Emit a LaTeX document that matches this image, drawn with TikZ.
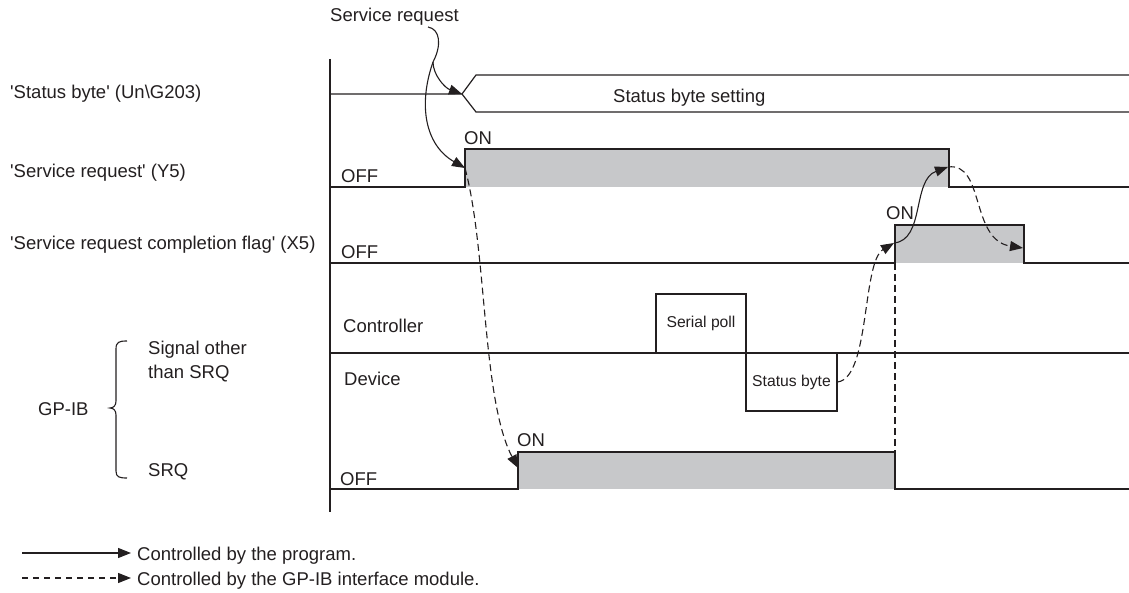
\documentclass[tikz,border=0pt]{standalone}
\usepackage{fontspec}
\setmainfont{Liberation Sans}
\usetikzlibrary{arrows.meta}
\definecolor{ink}{RGB}{35,31,32}
\definecolor{fillgray}{RGB}{199,200,202}
\newcommand\mainfs{\fontsize{18.5}{22}\selectfont}
\newcommand\boxfs{\fontsize{15.7}{19}\selectfont}
\newcommand\q{\textquotesingle}
\tikzset{
  lbl/.style={anchor=base west, inner sep=0pt, font=\mainfs, text=ink},
  sig/.style={draw=ink, line width=1.2pt},
  gate/.style={fill=fillgray},
  boxnode/.style={draw=ink, line width=1.2pt, fill=white, inner sep=0pt, font=\boxfs, text=ink},
  prog/.style={draw=ink, line width=1.1pt, -{Triangle[length=13pt,width=10pt]}},
  progline/.style={draw=ink, line width=1.1pt},
  gpib/.style={prog, dash pattern=on 7pt off 4pt},
  gpibline/.style={draw=ink, line width=1.1pt, dash pattern=on 7pt off 4pt},
}
\begin{document}
\begin{tikzpicture}[x=1pt, y=-1pt]
\useasboundingbox (0,0) rectangle (1129,593);

% axis
\draw[sig] (330,59) -- (330,512);

% status byte row
\draw[sig] (330,94) -- (462,94) -- (476,75) -- (1129,75);
\draw[sig] (462,94) -- (476,112) -- (1129,112);

% Y5
\fill[gate] (465,149) rectangle (949,187);
\draw[sig] (330,187) -- (465,187) -- (465,149) -- (949,149) -- (949,187) -- (1129,187);

% X5
\fill[gate] (895,225) rectangle (1024,263);
\draw[sig] (330,263) -- (895,263) -- (895,225) -- (1024,225) -- (1024,263) -- (1129,263);

% controller / device
\draw[sig] (330,353) -- (1129,353);
\node[boxnode, minimum width=90pt, minimum height=59pt] (sp) at (701,323.5) {Serial poll};
\node[boxnode, minimum width=91pt, minimum height=58pt] (sb) at (791.5,382) {Status byte};

% SRQ
\fill[gate] (518,452) rectangle (895,489);
\draw[sig] (330,489) -- (518,489) -- (518,452) -- (895,452) -- (895,489) -- (1129,489);

% brace
\draw[sig, line width=1.1pt] (127,341) .. controls (119,341) and (116,342) .. (116,349) -- (116,401)
  .. controls (116,405) and (114,408) .. (110,408) .. controls (114,408) and (116,411) .. (116,415)
  -- (116,471) .. controls (116,477) and (119,478) .. (127,478);

% labels
\node[lbl] (tsr) at (330,22) {Service request};
\node[lbl] (tsbs) at (613,103) {Status byte setting};
\node[lbl] (l1) at (10,99) {\q Status byte\q{} (Un\textbackslash G203)};
\node[lbl] (l2) at (10,178) {\q Service request\q{} (Y5)};
\node[lbl] (l3) at (10,250) {\q Service request completion flag\q{} (X5)};
\node[lbl] (off1) at (341,183) {OFF};
\node[lbl] (on1) at (464,145) {ON};
\node[lbl] (off2) at (341,259) {OFF};
\node[lbl] (on2) at (886,220) {ON};
\node[lbl] (ctl) at (343,333) {Controller};
\node[lbl] (dev) at (344,385) {Device};
\node[lbl] (off3) at (340,485) {OFF};
\node[lbl] (on3) at (517,446) {ON};
\node[lbl] (gpib) at (38,415) {GP-IB};
\node[lbl] (sig1) at (148,355) {Signal other};
\node[lbl] (sig2) at (148,378) {than SRQ};
\node[lbl] (srq) at (148,476) {SRQ};

% connector points
\coordinate (srq0) at (428,27);
\coordinate (split) at (433,62);
\coordinate (sbx) at (462,94);
\coordinate (y5on) at (465,168);
\coordinate (srqon) at (518,468);
\coordinate (x5on) at (894,243);
\coordinate (y5off) at (948,167);
\coordinate (x5off) at (1023,248);
\coordinate (vtop) at (895,263);
\coordinate (vbot) at (895,452);

% connectors
\draw[progline] (srq0) .. controls (440,29) and (442,45) .. (split);
\draw[prog] (split) .. controls (433,75) and (445,88) .. (sbx);
\draw[prog] (split) .. controls (418,105) and (425,145) .. (y5on);
\draw[gpib] (y5on) .. controls (487,250) and (482,400) .. (srqon);
\draw[gpib] (sb.east) .. controls (870,378) and (862,262) .. (x5on);
\draw[prog] (x5on) .. controls (925,240) and (912,180) .. (y5off);
\draw[gpib] (y5off) .. controls (985,162) and (970,240) .. (x5off);
\draw[gpibline] (vtop) -- (vbot);

% legend
\coordinate (la1) at (22,553);
\coordinate (lb1) at (131,553);
\coordinate (la2) at (22,578);
\coordinate (lb2) at (131,578);
\draw[prog] (la1) -- (lb1);
\draw[gpib, dash pattern=on 6pt off 5pt] (la2) -- (lb2);
\node[lbl] (leg1) at (137,560) {Controlled by the program.};
\node[lbl] (leg2) at (137,585) {Controlled by the GP-IB interface module.};
\end{tikzpicture}
\end{document}
